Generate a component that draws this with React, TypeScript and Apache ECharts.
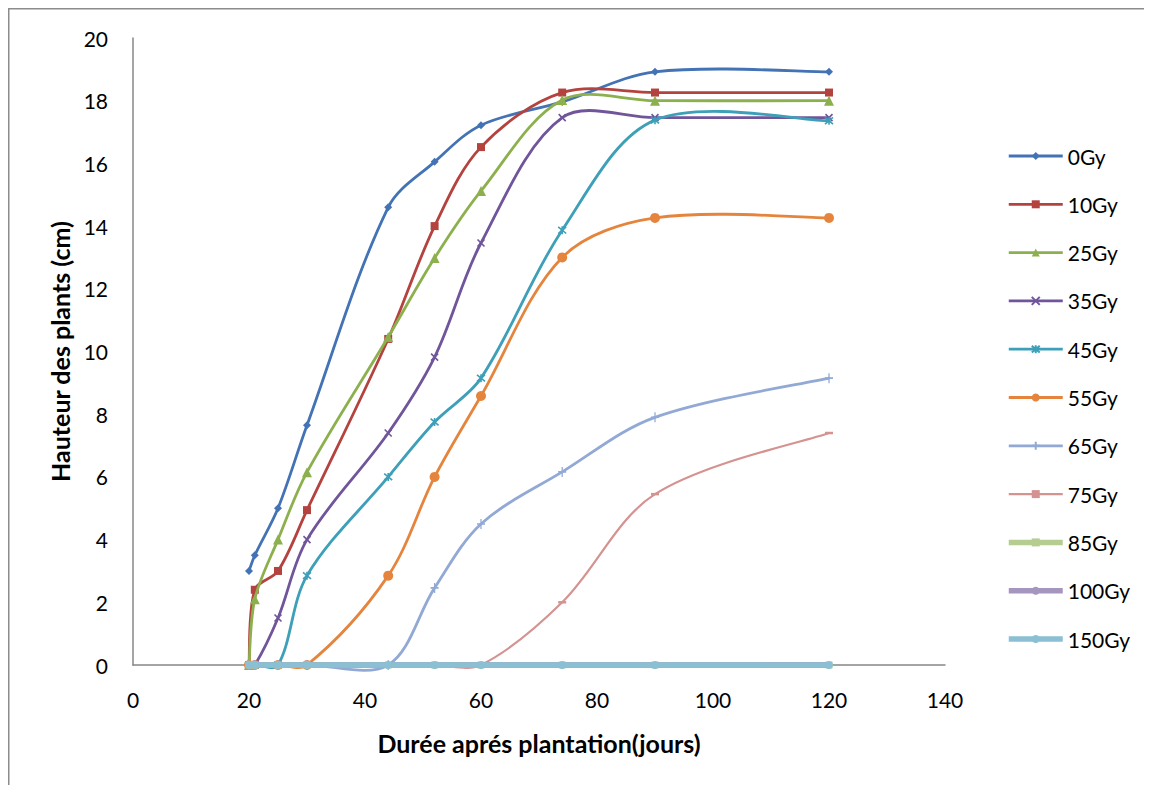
import React, { useEffect, useRef } from "react";
import * as echarts from "echarts";

const days = [20, 21, 25, 30, 44, 52, 60, 74, 90, 120];
const seriesNames = ["0Gy", "10Gy", "25Gy", "35Gy", "45Gy", "55Gy", "65Gy", "75Gy", "85Gy", "100Gy", "150Gy"];
const g0 = [3.0, 3.5, 5.0, 7.65, 14.6, 16.05, 17.22, 17.96, 18.92, 18.92];
const g10 = [0, 2.4, 3.0, 4.94, 10.4, 14.0, 16.52, 18.26, 18.26, 18.26];
const g25 = [0, 2.1, 4.0, 6.15, 10.46, 12.98, 15.12, 18.02, 18.0, 18.0];
const g35 = [0, 0, 1.5, 4.0, 7.4, 9.82, 13.46, 17.46, 17.46, 17.46];
const g45 = [0, 0, 0, 2.85, 6.0, 7.75, 9.15, 13.87, 17.38, 17.36];
const g55 = [0, 0, 0, 0, 2.85, 6.0, 8.58, 13.0, 14.26, 14.26];
const g65 = [0, 0, 0, 0, 0, 2.46, 4.5, 6.16, 7.9, 9.15];
const g75 = [0, 0, 0, 0, 0, 0, 0, 2.0, 5.45, 7.4];
const g85 = [0, 0, 0, 0, 0, 0, 0, 0, 0, 0];
const g100 = [0, 0, 0, 0, 0, 0, 0, 0, 0, 0];
const g150 = [0, 0, 0, 0, 0, 0, 0, 0, 0, 0];
const values = [g0, g10, g25, g35, g45, g55, g65, g75, g85, g100, g150];

const xTicks = { min: 0, max: 140, interval: 20 };
const yTicks = { min: 0, max: 20, interval: 2 };

const colors = ["#4373b4", "#b4433f", "#8db04e", "#70559b", "#3d9fb8", "#e5853d", "#91a9d4", "#d49391", "#b6cd92", "#a596c0", "#8bbfd3"];

const FONT = "Lato, 'Open Sans', sans-serif";

const styles: any[] = [
  { symbol: "diamond", symbolSize: 8, width: 2.8 },
  { symbol: "rect", symbolSize: 8, width: 2.8 },
  { symbol: "triangle", symbolSize: 10, width: 2.8 },
  { symbol: "path://M0,0L10,10M10,0L0,10", symbolSize: 7, width: 2.8, stroke: 1.6 },
  { symbol: "path://M0,0L10,10M10,0L0,10M5,-1L5,11", symbolSize: 8, width: 2.8, stroke: 1.6 },
  { symbol: "circle", symbolSize: 10, width: 2.8 },
  { symbol: "path://M5,0L5,10M2,5L8,5", symbolSize: [8, 10], width: 2.8, stroke: 1.4 },
  { symbol: "rect", symbolSize: [8, 2.5], width: 2.2 },
  { symbol: "rect", symbolSize: 7, width: 5.5 },
  { symbol: "circle", symbolSize: 6, width: 5.5 },
  { symbol: "circle", symbolSize: 8, width: 5.5 },
];

const K = 1 / 3;

function curvePath(pts: number[][]): string {
  const n = pts.length;
  const cpNext: number[][] = [];
  const cpPrev: number[][] = [];
  for (let i = 0; i < n; i++) {
    const p = pts[i];
    if (i === 0 || i === n - 1) {
      const q = i === 0 ? pts[1] : pts[n - 2];
      const vx = (q[0] - p[0]) * K * 0.5;
      const vy = (q[1] - p[1]) * K * 0.5;
      cpNext[i] = [p[0] + vx, p[1] + vy];
      cpPrev[i] = [p[0] + vx, p[1] + vy];
      continue;
    }
    const a = pts[i - 1];
    const b = pts[i + 1];
    const vx = b[0] - a[0];
    const vy = b[1] - a[1];
    const lp = Math.hypot(p[0] - a[0], p[1] - a[1]);
    const ln = Math.hypot(b[0] - p[0], b[1] - p[1]);
    const s = lp + ln || 1;
    cpNext[i] = [p[0] + vx * K * (ln / s), p[1] + vy * K * (ln / s)];
    cpPrev[i] = [p[0] - vx * K * (lp / s), p[1] - vy * K * (lp / s)];
  }
  let d = `M${pts[0][0]},${pts[0][1]}`;
  for (let i = 0; i < n - 1; i++) {
    const c1 = cpNext[i];
    const c2 = cpPrev[i + 1];
    const p2 = pts[i + 1];
    d += ` C${c1[0]},${c1[1]} ${c2[0]},${c2[1]} ${p2[0]},${p2[1]}`;
  }
  return d;
}

export default function App() {
  const ref = useRef<HTMLDivElement>(null);
  useEffect(() => {
    const chart = echarts.init(ref.current!, null, { renderer: "svg" });
    const series: any[] = [];
    seriesNames.forEach((name, i) => {
      const st = styles[i];
      const vals = values[i];
      series.push({
        id: "curve" + i,
        type: "custom",
        coordinateSystem: "cartesian2d",
        data: [[days[0], vals[0]]],
        silent: true,
        z: 2 + i * 2,
        renderItem: (params: any, api: any) => {
          const pts = days.map((d, j) => api.coord([d, vals[j]]));
          return {
            type: "path",
            shape: { pathData: curvePath(pts) },
            style: { stroke: colors[i], lineWidth: st.width, fill: "none", lineCap: "round", lineJoin: "round" },
          };
        },
      });
      series.push({
        name,
        type: "line",
        data: days.map((d, j) => [d, vals[j]]),
        symbol: st.symbol,
        symbolSize: st.symbolSize,
        showAllSymbol: true,
        lineStyle: { color: colors[i], width: 0, opacity: 0 },
        itemStyle: st.stroke
          ? { color: colors[i], borderColor: colors[i], borderWidth: st.stroke }
          : { color: colors[i], borderWidth: 0 },
        z: 3 + i * 2,
      });
    });
    chart.setOption({
      animation: false,
      backgroundColor: "#ffffff",
      textStyle: { fontFamily: FONT },
      graphic: [
        { type: "line", shape: { x1: 0, y1: 0.5, x2: 1144, y2: 0.5 }, style: { stroke: "#8c8c8c", lineWidth: 2 } },
        { type: "line", shape: { x1: 0.5, y1: 0, x2: 0.5, y2: 777 }, style: { stroke: "#8c8c8c", lineWidth: 2 } },
      ],
      grid: { left: 125, top: 30, width: 812, height: 627, containLabel: false },
      legend: {
        orient: "vertical",
        left: 993,
        top: 131,
        itemWidth: 54,
        itemHeight: 10,
        itemGap: 24.3,
        textStyle: { fontFamily: FONT, fontSize: 21, color: "#000", lineHeight: 24 },
        data: seriesNames.map((name, i) => ({
          name,
          lineStyle: { color: colors[i], width: styles[i].width, opacity: 1 },
        })),
      },
      xAxis: {
        type: "value",
        min: xTicks.min,
        max: xTicks.max,
        interval: xTicks.interval,
        name: "Durée aprés plantation(jours)",
        nameLocation: "middle",
        nameGap: 65,
        nameTextStyle: { fontFamily: FONT, fontSize: 25, fontWeight: "bold", color: "#000" },
        axisLine: { show: true, lineStyle: { color: "#878787", width: 1.5 } },
        axisTick: { show: false },
        splitLine: { show: false },
        axisLabel: { fontFamily: FONT, fontSize: 21, color: "#000", margin: 24 },
      },
      yAxis: {
        type: "value",
        min: yTicks.min,
        max: yTicks.max,
        interval: yTicks.interval,
        name: "Hauteur des plants (cm)",
        nameLocation: "middle",
        nameGap: 58,
        nameRotate: 90,
        nameTextStyle: { fontFamily: FONT, fontSize: 25, fontWeight: "bold", color: "#000" },
        axisLine: { show: true, lineStyle: { color: "#878787", width: 1.5 } },
        axisTick: { show: false },
        splitLine: { show: false },
        axisLabel: { fontFamily: FONT, fontSize: 21, color: "#000", margin: 25 },
      },
      series,
    });
    return () => chart.dispose();
  }, []);
  return <div ref={ref} style={{ width: 1144, height: 777 }} />;
}
